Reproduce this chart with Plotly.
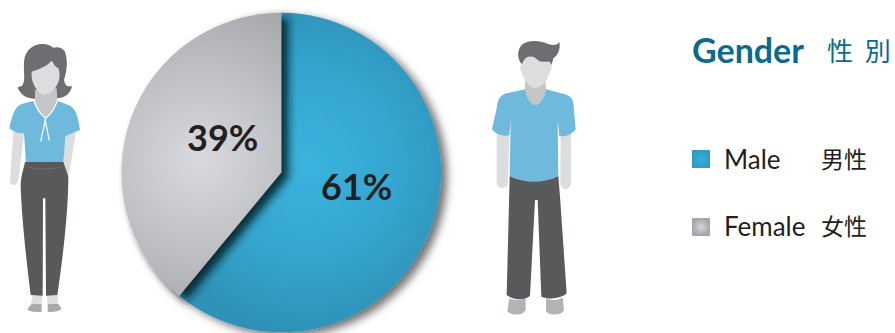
import re
import plotly.graph_objects as go

# Gender split shown by the pie
categories = ["Male", "Female"]
categories_zh = ["男性", "女性"]
shares = [61, 39]
title_en = "Gender"
title_zh = "性  別"

INK = "#231f20"
TEAL = "#0b6a8f"
SKIN = "#dcddde"
NECK = "#c4c5c7"
HAIR = "#6d6e71"
SHIRT = "#6fb9dc"
PANTS = "#58595b"
SHOE = "#a9abae"

# Pie geometry in pixels
W, H = 895, 333
CX, CY, R = 281.2, 172.5, 159.8


def place(path, ox, oy):
    """Convert an outline drawn at 3x around an origin into page pixels."""
    nums = iter(range(10**6))

    def conv(m):
        v = float(m.group())
        if next(nums) % 2 == 0:
            return f"{ox + v / 3:.2f}"
        return f"{oy + v / 3:.2f}"

    return re.sub(r"-?\d+(?:\.\d+)?", conv, path)


WOMAN = [
    ("M 40 305 L 30 450 C 30 470 52 470 55 450 L 72 310 Z", SKIN),
    ("M 195 310 L 228 305 L 205 445 L 190 400 Z", SKIN),
    ("M 130 42 C 100 40 75 60 72 95 C 70 130 78 155 65 168 L 53 172 C 60 195 85 210 110 205 "
     "L 170 205 C 195 205 212 190 216 168 C 200 172 195 165 192 150 C 200 125 205 95 195 65 "
     "C 185 50 170 50 160 53 C 150 46 140 42 130 42 Z", HAIR),
    ("M 105 180 L 105 215 C 110 235 125 255 138 265 C 155 250 170 230 172 210 L 170 175 Z", NECK),
    ("M 155 92 C 140 110 115 118 95 125 C 92 150 105 180 125 192 C 135 198 150 193 165 175 "
     "C 180 155 182 135 175 115 C 165 110 160 100 155 92 Z", SKIN),
    ("M 102 212 L 65 222 C 45 228 35 260 28 295 C 40 305 55 312 72 310 L 78 400 L 190 400 "
     "L 196 318 L 240 300 C 235 265 230 235 205 225 L 172 212 C 165 235 150 255 137 265 "
     "C 122 255 108 235 102 212 Z", SHIRT),
    ("M 100 790 L 127 790 L 125 824 L 92 824 Z", SKIN),
    ("M 140 790 L 172 790 L 175 826 L 143 824 Z", SKIN),
    ("M 95 822 L 125 822 L 125 845 C 105 847 88 845 82 838 Z", SHOE),
    ("M 143 822 L 175 822 L 185 836 C 175 845 155 847 143 845 Z", SHOE),
    ("M 75 396 L 190 396 L 195 410 L 205 440 C 205 520 195 640 172 795 L 138 797 L 136 505 "
     "L 129 505 L 128 797 L 92 795 C 80 700 65 560 62 470 C 62 440 70 420 75 396 Z", PANTS),
]
WOMAN_LINES = [
    ("M 102 212 C 108 235 125 255 137 265 C 150 255 165 235 172 212", "#ffffff", 1.3),
    ("M 137 265 L 122 335", "#ffffff", 1.2),
    ("M 135 268 L 148 332", "#ffffff", 1.2),
    ("M 75 408 C 110 420 150 420 190 408", "#77787b", 0.6),
]
MAN = [
    ("M 80 310 L 118 310 L 114 460 C 112 480 82 480 80 458 Z", SKIN),
    ("M 272 310 L 303 310 L 303 460 C 303 483 272 483 271 460 Z", SKIN),
    ("M 157 105 C 140 85 140 60 158 42 C 180 28 210 32 235 42 C 250 47 262 45 268 35 "
     "C 272 55 265 75 250 85 L 245 105 L 238 95 L 210 95 L 190 80 L 175 80 C 165 85 160 95 157 105 Z", HAIR),
    ("M 165 145 L 165 178 C 170 205 185 225 197 225 C 210 225 225 200 228 178 L 226 145 Z", NECK),
    ("M 157 100 C 160 90 168 82 175 80 L 190 82 L 208 95 L 240 97 C 245 105 248 115 240 125 "
     "C 235 145 220 172 195 174 C 175 174 160 145 155 125 C 148 115 150 105 157 100 Z", SKIN),
    ("M 165 178 L 110 190 C 90 195 82 210 80 235 L 66 298 C 80 315 100 320 118 316 L 122 270 "
     "L 119 438 C 160 460 225 460 265 438 L 263 270 L 268 318 C 290 322 305 312 317 298 L 310 220 "
     "C 308 205 300 198 285 193 L 228 178 C 225 200 210 225 197 225 C 185 225 170 205 165 178 Z", SHIRT),
    ("M 118 805 C 130 812 155 812 167 802 L 167 840 C 160 858 120 858 112 842 Z", "#b1b3b6"),
    ("M 228 805 C 245 812 265 812 278 802 L 282 840 C 275 858 235 858 228 842 Z", "#b1b3b6"),
    ("M 119 438 C 160 460 225 460 265 438 L 270 500 L 290 790 C 275 805 240 810 214 800 "
     "L 203 510 L 195 510 L 180 798 C 160 812 130 810 110 795 Z", PANTS),
]

shapes = []
for path, colour in WOMAN:
    shapes.append(dict(type="path", xref="x", yref="y", path=place(path, 0, 30),
                       fillcolor=colour, line_width=0))
for path, colour, width in WOMAN_LINES:
    shapes.append(dict(type="path", xref="x", yref="y", path=place(path, 0, 30),
                       line=dict(color=colour, width=width)))
for path, colour in MAN:
    shapes.append(dict(type="path", xref="x", yref="y", path=place(path, 470, 30),
                       fillcolor=colour, line_width=0))

fig = go.Figure()

# Male is drawn first so that the Female slice and its shadow sit on top of it
fig.add_trace(go.Pie(
    labels=categories, values=shares, sort=False, direction="clockwise", rotation=0,
    textinfo="none", hoverinfo="skip", showlegend=False,
    marker=dict(colors=["#31a3cb", "#bcbdc1"], line=dict(width=0)),
    domain=dict(x=[(CX - R) / W, (CX + R) / W],
                y=[(H - CY - R) / H, (H - CY + R) / H]),
))

# Legend swatches: marker colour is the rim, gradient colour the centre
fig.add_trace(go.Scatter(
    x=[701, 701], y=[159, 227], mode="markers", hoverinfo="skip", showlegend=False,
    marker=dict(symbol="square", size=18, color=["#2f9bc4", "#a5a6aa"],
                gradient=dict(type="radial", color=["#38b0da", "#d4d5d8"]), line_width=0),
))


def label(x, y, text, size, colour=INK, font="Lato", bold=False):
    fig.add_annotation(x=x, y=y, xref="x", yref="y", text=f"<b>{text}</b>" if bold else text,
                       showarrow=False, xanchor="left", yanchor="middle", align="left",
                       font=dict(family=font, size=size, color=colour), borderpad=0, borderwidth=0)


CJK = "Noto Sans CJK TC"
label(692, 49, title_en, 34, TEAL, bold=True)
label(827, 49, title_zh, 26, TEAL, CJK)
label(724, 159, categories[0], 26)
label(724, 226, categories[1], 26)
label(821, 158, categories_zh[0], 23, font=CJK)
label(821, 225, categories_zh[1], 23, font=CJK)
label(321, 185.5, f"{shares[0]}%", 36, bold=True)
label(187, 136.5, f"{shares[1]}%", 36, bold=True)

fig.update_layout(
    width=W, height=H, margin=dict(l=0, r=0, t=0, b=0),
    paper_bgcolor="white", plot_bgcolor="white", shapes=shapes,
    xaxis=dict(range=[0, W], visible=False, fixedrange=True),
    yaxis=dict(range=[H, 0], visible=False, fixedrange=True),
)

# Radial shading for the slices and soft shadows, which pie traces have no option for
shading = """
var gd = document.getElementById('{plot_id}');
var svg = gd.querySelector('svg.main-svg');
var defs = svg.querySelector('defs') || svg.insertBefore(document.createElementNS('http://www.w3.org/2000/svg','defs'), svg.firstChild);
var extra = document.createElementNS('http://www.w3.org/2000/svg','g');
extra.innerHTML =
 '<radialGradient id="shadeMale" gradientUnits="userSpaceOnUse" cx="306" cy="165" r="165">' +
 '<stop offset="0" stop-color="#3bb3de"/><stop offset="0.55" stop-color="#34a6cf"/><stop offset="1" stop-color="#2e92b8"/></radialGradient>' +
 '<radialGradient id="shadeFemale" gradientUnits="userSpaceOnUse" cx="200" cy="160" r="175">' +
 '<stop offset="0" stop-color="#d9dadd"/><stop offset="0.5" stop-color="#c0c1c5"/><stop offset="1" stop-color="#a4a5a9"/></radialGradient>' +
 '<filter id="shadowPie" x="-10%" y="-10%" width="125%" height="125%"><feDropShadow dx="6" dy="4" stdDeviation="4" flood-color="#000" flood-opacity="0.55"/></filter>' +
 '<filter id="shadowSlice" x="-20%" y="-20%" width="150%" height="150%"><feDropShadow dx="7" dy="5" stdDeviation="4" flood-color="#04141c" flood-opacity="0.85"/></filter>';
while (extra.firstChild) defs.appendChild(extra.firstChild);
var slices = gd.querySelectorAll('.pielayer .slice path.surface');
slices[0].style.fill = 'url(#shadeMale)';
slices[1].style.fill = 'url(#shadeFemale)';
slices[1].setAttribute('filter', 'url(#shadowSlice)');
gd.querySelector('.pielayer .trace').setAttribute('filter', 'url(#shadowPie)');
"""

fig.write_html("out.html", post_script=shading, config=dict(displayModeBar=False, staticPlot=True))
